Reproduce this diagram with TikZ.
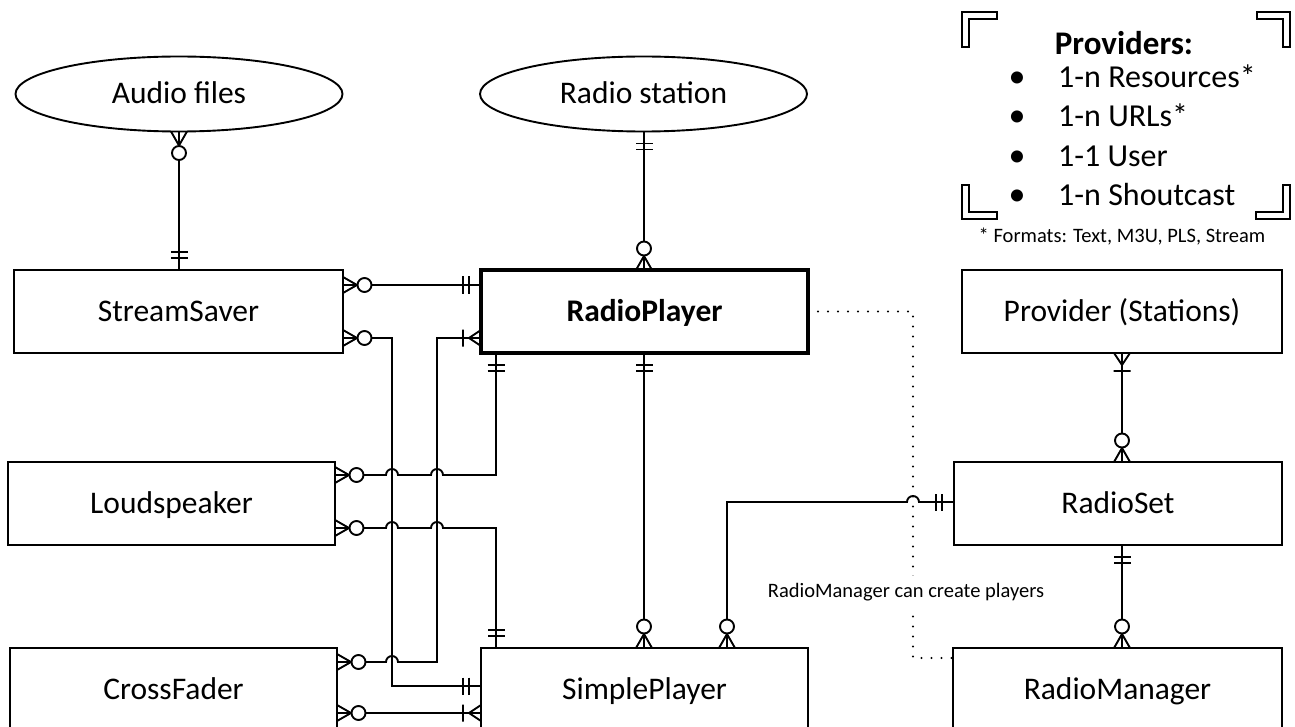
\documentclass[tikz,border=0pt]{standalone}
\usepackage{fontspec}
\setmainfont{Carlito}
\usetikzlibrary{decorations.markings}
\newcommand\ERzm{\draw[erl] (-14,0) -- (0,8) (-14,0) -- (0,-8); \draw[erl,fill=white] (-21.5,0) circle[radius=7];}
\newcommand\ERom{\draw[erl] (-12,0) -- (0,8) (-12,0) -- (0,-8) (-18,-8.5) -- (-18,8.5);}
\newcommand\ERoo{\draw[erl] (-12,-8.5) -- (-12,8.5) (-18,-8.5) -- (-18,8.5);}
\tikzset{
  erl/.style={line width=1.9pt},
  conn/.style={line width=1.9pt},
  zm start/.style={postaction={decorate,decoration={markings,mark=at position 0 with {\begin{scope}[xscale=-1]\ERzm\end{scope}}}}},
  zm end/.style={postaction={decorate,decoration={markings,mark=at position 1 with {\ERzm}}}},
  om start/.style={postaction={decorate,decoration={markings,mark=at position 0 with {\begin{scope}[xscale=-1]\ERom\end{scope}}}}},
  om end/.style={postaction={decorate,decoration={markings,mark=at position 1 with {\ERom}}}},
  oo start/.style={postaction={decorate,decoration={markings,mark=at position 0 with {\begin{scope}[xscale=-1]\ERoo\end{scope}}}}},
  oo end/.style={postaction={decorate,decoration={markings,mark=at position 1 with {\ERoo}}}},
  ent/.style={draw, line width=1.9pt, minimum width=#1, minimum height=83pt, inner sep=0pt, outer sep=0pt, text height=20pt, text depth=0pt, font=\fontsize{31.5}{36}\selectfont},
  attr/.style={draw, ellipse, line width=1.9pt, minimum width=327pt, minimum height=75pt, inner sep=0pt, outer sep=0pt, text height=20pt, text depth=0pt, font=\fontsize{31.5}{36}\selectfont},
  bracket/.style={draw, line width=1.3pt, fill=white, line join=miter},
  legtxt/.style={anchor=west, inner sep=0pt, text height=20pt, text depth=0pt, font=\fontsize{32}{36}\selectfont},
  bul/.style={inner sep=0pt, font=\fontsize{34}{36}\selectfont},
  smalltxt/.style={font=\fontsize{20.5}{24}\selectfont},
  dotline/.style={line width=2.2pt, line cap=round, dash pattern=on 0pt off 10pt},
}
\usetikzlibrary{shapes.geometric}
\begin{document}
\begin{tikzpicture}[x=1pt,y=-1pt]
\useasboundingbox (0,0) rectangle (1295,727);
\clip (0,0) rectangle (1295,727);
% attributes
\node[attr] (af) at (179,94) {Audio files};
\node[attr] (rst) at (643.5,94) {Radio station};
% entities
\node[ent=329pt] (ss) at (178.5,311.5) {StreamSaver};
\node[ent=327pt, line width=3.4pt, font=\bfseries\fontsize{31.5}{36}\selectfont] (rp) at (644.5,311.5) {RadioPlayer};
\node[ent=320pt] (prov) at (1122,311.5) {Provider (Stations)};
\node[ent=327pt] (ls) at (171.5,503.5) {Loudspeaker};
\node[ent=328pt] (rs) at (1118,503.5) {RadioSet};
\node[ent=327pt] (cf) at (173.5,689.5) {CrossFader};
\node[ent=327pt] (sp) at (644.5,689.5) {SimplePlayer};
\node[ent=329pt] (rm) at (1117.5,689.5) {RadioManager};
% dotted relation
\draw[dotline] (rp.east) -- (913,0 |- rp.east) -- (913,658) -- (rm.west |- 0,658);
\node[fill=white, inner xsep=3pt, inner ysep=7pt, smalltxt] (lbl) at (906,592) {RadioManager can create players};
% connectors
\draw[conn, zm start, oo end] (af.south) -- (af.south |- ss.north);
\draw[conn, oo start, zm end] (644,0 |- rst.south) -- (644,0 |- rp.north);
\draw[conn, zm start, oo end] (ss.east |- 0,285) -- (rp.west |- 0,285);
\draw[conn, zm start, oo end] (ss.east |- 0,338) -- (392,338) -- (392,686) -- (sp.west |- 0,686);
\draw[conn, om start, zm end] (rp.west |- 0,338) -- (437,338) -- (437,662) -- (398,662)
   arc[start angle=0,end angle=180,radius=6pt] -- (cf.east |- 0,662);
\draw[conn, zm start, oo end] (ls.east |- 0,475) -- (386,475)
   arc[start angle=180,end angle=0,radius=6pt] -- (431,475)
   arc[start angle=180,end angle=0,radius=6pt] -- (496,475) -- (496,0 |- rp.south);
\draw[conn, zm start, oo end] (ls.east |- 0,528) -- (386,528)
   arc[start angle=180,end angle=0,radius=6pt] -- (431,528)
   arc[start angle=180,end angle=0,radius=6pt] -- (496,528) -- (496,0 |- sp.north);
\draw[conn, zm start, om end] (cf.east |- 0,713) -- (sp.west |- 0,713);
\draw[conn, oo start, zm end] (644,0 |- rp.south) -- (644,0 |- sp.north);
\draw[conn, oo start, zm end] (rs.west |- 0,502) -- (919,502)
   arc[start angle=0,end angle=180,radius=6pt] -- (727,502) -- (727,0 |- sp.north);
\draw[conn, om start, zm end] (1122,0 |- prov.south) -- (1122,0 |- rs.north);
\draw[conn, oo start, zm end] (1122,0 |- rs.south) -- (1122,0 |- rm.north);
% legend brackets
\draw[bracket] (962,12) -- (997,12) -- (997,19) -- (969,19) -- (969,47) -- (962,47) -- cycle;
\draw[bracket] (1290,12) -- (1257,12) -- (1257,19) -- (1283,19) -- (1283,47) -- (1290,47) -- cycle;
\draw[bracket] (962,219) -- (997,219) -- (997,212) -- (969,212) -- (969,185) -- (962,185) -- cycle;
\draw[bracket] (1290,219) -- (1256,219) -- (1256,212) -- (1283,212) -- (1283,185) -- (1290,185) -- cycle;
% legend text
\node[font=\bfseries\fontsize{33}{36}\selectfont, text height=21pt, text depth=0pt] (lh) at (1124,44) {Providers:};
\node[bul] (b1) at (1017,80) {\textbullet};
\node[bul] (b2) at (1017,119) {\textbullet};
\node[bul] (b3) at (1017,159) {\textbullet};
\node[bul] (b4) at (1017,198) {\textbullet};
\node[legtxt] (t1) at (1058,78) {1-n Resources*};
\node[legtxt] (t2) at (1058,117) {1-n URLs*};
\node[legtxt] (t3) at (1058,157) {1-1 User};
\node[legtxt] (t4) at (1058,196) {1-n Shoutcast};
\node[smalltxt] (fn) at (1122,237) {* Formats: Text, M3U, PLS, Stream};
\end{tikzpicture}
\end{document}
